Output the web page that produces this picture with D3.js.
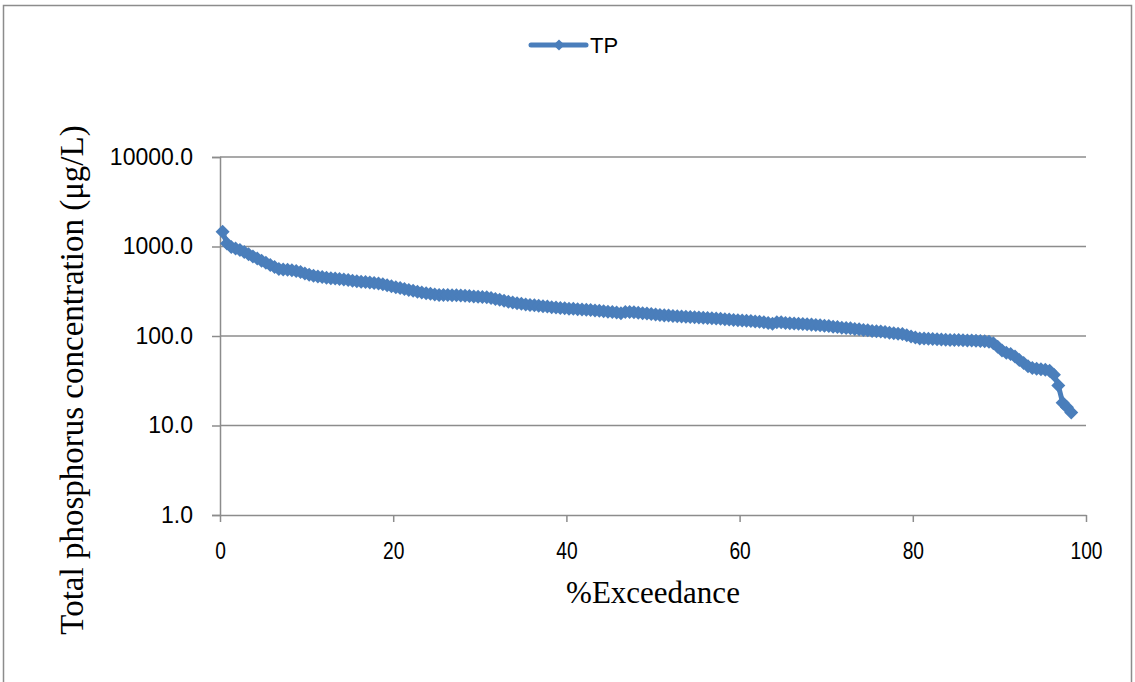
<!DOCTYPE html>
<html>
<head>
<meta charset="utf-8">
<script src="https://cdn.jsdelivr.net/npm/d3@7"></script>
<style>
  html, body { margin: 0; padding: 0; background: #fff; }
  svg { display: block; }
</style>
</head>
<body>
<div id="chart"></div>
<script>
// % exceedance of each sample (x) and its total phosphorus value in µg/L (y)
const exceedance = [
  0.3, 0.8, 1.3, 1.8, 2.3, 2.8, 3.3, 3.8, 4.3, 4.8, 5.3, 5.8, 6.3, 6.8, 7.3, 7.8, 8.3, 8.8, 9.3, 9.8,
  10.3, 10.8, 11.3, 11.8, 12.3, 12.8, 13.3, 13.8, 14.3, 14.8, 15.3, 15.8, 16.3, 16.8, 17.3, 17.8, 18.3, 18.8, 19.3, 19.8,
  20.3, 20.8, 21.3, 21.8, 22.3, 22.8, 23.3, 23.8, 24.3, 24.8, 25.3, 25.8, 26.3, 26.8, 27.3, 27.8, 28.3, 28.8, 29.3, 29.8,
  30.3, 30.8, 31.3, 31.8, 32.3, 32.8, 33.3, 33.8, 34.3, 34.8, 35.3, 35.8, 36.3, 36.8, 37.3, 37.8, 38.3, 38.8, 39.3, 39.8,
  40.3, 40.8, 41.3, 41.8, 42.3, 42.8, 43.3, 43.8, 44.3, 44.8, 45.3, 45.8, 46.3, 46.8, 47.3, 47.8, 48.3, 48.8, 49.3, 49.8,
  50.3, 50.8, 51.3, 51.8, 52.3, 52.8, 53.3, 53.8, 54.3, 54.8, 55.3, 55.8, 56.3, 56.8, 57.3, 57.8, 58.3, 58.8, 59.3, 59.8,
  60.3, 60.8, 61.3, 61.8, 62.3, 62.8, 63.3, 63.8, 64.3, 64.8, 65.3, 65.8, 66.3, 66.8, 67.3, 67.8, 68.3, 68.8, 69.3, 69.8,
  70.3, 70.8, 71.3, 71.8, 72.3, 72.8, 73.3, 73.8, 74.3, 74.8, 75.3, 75.8, 76.3, 76.8, 77.3, 77.8, 78.3, 78.8, 79.3, 79.8,
  80.3, 80.8, 81.3, 81.8, 82.3, 82.8, 83.3, 83.8, 84.3, 84.8, 85.3, 85.8, 86.3, 86.8, 87.3, 87.8, 88.3, 88.8, 89.3, 89.8,
  90.3, 90.8, 91.3, 91.8, 92.3, 92.8, 93.3, 93.8, 94.3, 94.8, 95.3, 95.8, 96.3, 96.8, 97.3, 97.8, 98.3
];
const tpValues = [
  1460, 1080, 990, 950, 915, 870, 820, 775, 735, 695, 660, 620, 590, 560, 553, 549, 543, 533, 520, 500,
  482, 472, 463, 455, 447, 443, 438, 434, 429, 422, 415, 409, 404, 400, 395, 391, 386, 378, 368, 359,
  351, 343, 335, 327, 320, 313, 307, 301, 296, 291, 288, 287, 287, 286, 285, 283, 281, 279, 277, 275,
  273, 271, 265, 259, 254, 248, 242, 237, 232, 229, 225, 222, 220, 218, 215, 213, 210, 208, 206, 204,
  202, 201, 199, 198, 196, 195, 193, 191, 189, 187, 185, 183, 180, 186, 186, 184, 182, 180, 178, 176,
  174, 172, 170, 169, 167, 166, 165, 164, 163, 162, 161, 160, 159, 158, 157, 156, 154, 153, 151, 150,
  149, 148, 147, 145, 144, 142, 140, 137, 142, 142, 140, 139, 138, 137, 136, 135, 134, 133, 132, 130,
  129, 127, 126, 124, 123, 122, 120, 119, 117, 116, 114, 113, 112, 111, 109, 107, 106, 105, 102, 99,
  96, 94, 93.5, 93, 92.5, 92, 91.5, 91, 90.5, 90, 90, 89.5, 89, 89, 88.5, 88, 87.5, 86, 83, 76,
  69, 65, 63, 59, 54, 50, 46, 44, 43, 42.5, 42, 41, 37, 28, 18, 16, 14
];
const xTicks = [0, 20, 40, 60, 80, 100];
const yTicks = [1, 10, 100, 1000, 10000];
const seriesName = "TP";

const width = 1135, height = 682;
const margin = { top: 157, right: 49, bottom: 167, left: 220 };
const plotW = width - margin.left - margin.right;
const plotH = height - margin.top - margin.bottom;
const blue = "#4a7ebb";
const grey = "#8c8c8c";

const svg = d3.select("#chart").append("svg")
  .attr("width", width)
  .attr("height", height);

// outer chart frame (bottom edge falls outside the picture)
svg.append("path")
  .attr("d", `M3.5,${height + 5} V5.5 H1131.5 V${height + 5}`)
  .attr("fill", "none")
  .attr("stroke", grey)
  .attr("stroke-width", 1.5);

const x = d3.scaleLinear().domain([0, 100]).range([0, plotW]);
const y = d3.scaleLog().domain([1, 10000]).range([plotH, 0]);

const g = svg.append("g")
  .attr("transform", `translate(${margin.left},${margin.top})`);

// horizontal gridlines
g.append("g")
  .selectAll("line")
  .data(yTicks.slice(1))
  .join("line")
  .attr("x1", 0)
  .attr("x2", plotW)
  .attr("y1", d => y(d))
  .attr("y2", d => y(d))
  .attr("stroke", grey)
  .attr("stroke-width", 1.5);

// y axis
const yAxis = g.append("g")
  .call(d3.axisLeft(y).tickValues(yTicks).tickFormat(d3.format(".1f")).tickSize(8).tickPadding(19));
yAxis.select(".domain").attr("stroke", grey).attr("stroke-width", 1.5);
yAxis.selectAll(".tick line").attr("stroke", grey).attr("stroke-width", 1.5);
yAxis.selectAll("text")
  .attr("fill", "#000")
  .style("font-family", "'Liberation Sans', Arial, sans-serif")
  .style("font-size", "23px");

// x axis (labels are tall and narrow in the original)
const xAxis = g.append("g")
  .attr("transform", `translate(0,${plotH})`)
  .call(d3.axisBottom(x).tickValues(xTicks).tickSize(7).tickSizeOuter(0).tickPadding(0));
xAxis.select(".domain").attr("stroke", grey).attr("stroke-width", 1.5);
xAxis.selectAll(".tick line").attr("stroke", grey).attr("stroke-width", 1.5);
xAxis.selectAll("text")
  .attr("fill", "#000")
  .attr("y", 0)
  .attr("dy", null)
  .attr("transform", "translate(0,44) scale(0.8,1)")
  .style("font-family", "'Liberation Sans', Arial, sans-serif")
  .style("font-size", "24px");

// data line with diamond markers
const points = exceedance.map((e, i) => ({ e, v: tpValues[i] }));
const line = d3.line()
  .x(d => x(d.e))
  .y(d => y(d.v));

g.append("path")
  .datum(points)
  .attr("fill", "none")
  .attr("stroke", blue)
  .attr("stroke-width", 5)
  .attr("stroke-linejoin", "round")
  .attr("d", line);

const diamond = d3.symbol().type(d3.symbolDiamond2).size(125);
g.append("g")
  .selectAll("path")
  .data(points)
  .join("path")
  .attr("transform", d => `translate(${x(d.e)},${y(d.v)})`)
  .attr("d", diamond)
  .attr("fill", blue);

// axis titles
svg.append("text")
  .attr("x", margin.left + plotW / 2)
  .attr("y", 603)
  .attr("text-anchor", "middle")
  .style("font-family", "'Liberation Serif', 'Times New Roman', serif")
  .style("font-size", "31px")
  .text("%Exceedance");

svg.append("text")
  .attr("transform", `translate(83,380) rotate(-90)`)
  .attr("text-anchor", "middle")
  .style("font-family", "'Liberation Serif', 'Times New Roman', serif")
  .style("font-size", "33px")
  .text("Total phosphorus concentration (μg/L)");

// legend
const legend = svg.append("g").attr("transform", "translate(531,45)");
legend.append("line")
  .attr("x1", 0)
  .attr("x2", 55)
  .attr("stroke", blue)
  .attr("stroke-width", 5)
  .attr("stroke-linecap", "round");
legend.append("path")
  .attr("transform", "translate(28,0)")
  .attr("d", d3.symbol().type(d3.symbolDiamond2).size(80))
  .attr("fill", blue);
legend.append("text")
  .attr("x", 59)
  .attr("y", 8)
  .style("font-family", "'Liberation Sans', Arial, sans-serif")
  .style("font-size", "22px")
  .text(seriesName);
</script>
</body>
</html>
